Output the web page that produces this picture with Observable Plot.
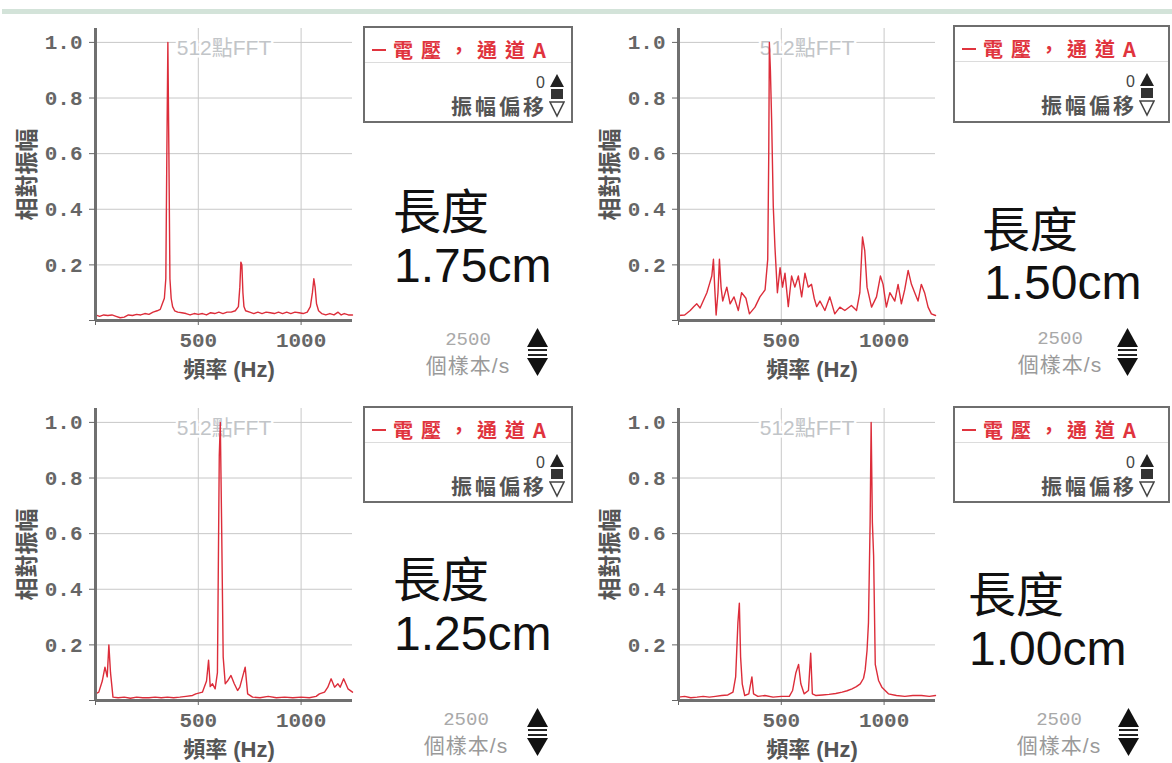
<!DOCTYPE html>
<html>
<head>
<meta charset="utf-8">
<script src="https://cdn.jsdelivr.net/npm/d3@7"></script>
<script src="https://cdn.jsdelivr.net/npm/@observablehq/plot@0.6"></script>
<style>
  html, body { margin: 0; padding: 0; background: #fff; }
  #root { position: relative; width: 1172px; height: 763px; overflow: hidden; background: #fff; }
  .topbar { position: absolute; left: 2px; top: 9px; width: 1170px; height: 5px; background: #d3e3d9; }
  .panel { position: absolute; }
  .legend { position: absolute; box-sizing: border-box; border: 2px solid #6e6e6e; background: #fff; }
  .t { position: absolute; white-space: nowrap; line-height: 1; }
</style>
</head>
<body>
<div id="root"><div class="topbar"></div></div>
<script>
// ---------- data ----------
const lengths = ["1.75cm", "1.50cm", "1.25cm", "1.00cm"];

const freq175 = [0,20,40,60,80,100,120,140,160,180,200,220,240,260,280,300,315,325,335,342,347,352,357,362,368,375,385,400,420,440,460,480,500,520,540,560,580,600,620,640,660,680,695,702,707,712,717,722,730,750,770,790,810,830,850,870,890,910,930,950,970,990,1010,1030,1045,1055,1062,1068,1075,1085,1100,1120,1140,1160,1180,1195,1210,1230,1250];
const amp175  = [0.02,0.015,0.02,0.018,0.02,0.015,0.01,0.012,0.02,0.018,0.022,0.02,0.025,0.022,0.03,0.035,0.04,0.06,0.08,0.15,0.6,1.0,0.6,0.15,0.08,0.05,0.035,0.03,0.028,0.025,0.02,0.025,0.022,0.025,0.02,0.028,0.025,0.03,0.025,0.03,0.03,0.035,0.05,0.12,0.21,0.2,0.1,0.05,0.035,0.03,0.025,0.03,0.025,0.03,0.028,0.025,0.03,0.025,0.03,0.025,0.03,0.028,0.025,0.03,0.05,0.1,0.15,0.12,0.06,0.035,0.025,0.02,0.025,0.02,0.03,0.02,0.025,0.02,0.02];

const freq150 = [0,30,57,75,89,105,120,138,150,162,170,176,183,192,199,207,215,235,251,270,291,307,328,345,372,396,421,434,439,442,447,453,461,469,481,494,506,518,534,550,566,583,599,615,631,647,660,672,688,712,736,760,785,809,841,866,882,895,906,917,939,963,982,995,1011,1028,1052,1068,1084,1100,1117,1133,1149,1165,1181,1197,1214,1230,1250];
const amp150  = [0.018,0.02,0.036,0.05,0.06,0.045,0.07,0.1,0.13,0.16,0.22,0.12,0.02,0.1,0.22,0.12,0.07,0.12,0.06,0.085,0.036,0.1,0.08,0.024,0.048,0.085,0.11,0.22,0.6,1.0,0.9,0.72,0.41,0.265,0.1,0.19,0.12,0.17,0.05,0.16,0.12,0.16,0.085,0.17,0.12,0.13,0.08,0.05,0.07,0.036,0.085,0.024,0.048,0.036,0.054,0.036,0.1,0.3,0.25,0.12,0.048,0.085,0.16,0.13,0.048,0.1,0.07,0.13,0.06,0.11,0.18,0.13,0.1,0.07,0.13,0.1,0.048,0.024,0.018];

const freq125 = [0,16,33,46,57,65,73,85,110,140,170,200,230,260,290,320,350,380,410,440,472,488,520,540,550,558,569,582,593,602,607,613,621,631,642,659,675,691,702,728,740,764,800,840,880,920,960,1000,1040,1073,1089,1114,1130,1146,1163,1179,1190,1207,1228,1250];
const amp125  = [0.024,0.03,0.07,0.12,0.085,0.2,0.1,0.012,0.01,0.012,0.008,0.012,0.01,0.01,0.012,0.01,0.012,0.01,0.012,0.015,0.018,0.024,0.03,0.07,0.145,0.05,0.06,0.042,0.1,0.88,1.0,0.66,0.157,0.06,0.07,0.09,0.06,0.036,0.048,0.12,0.024,0.012,0.01,0.015,0.01,0.012,0.01,0.012,0.01,0.015,0.024,0.03,0.048,0.078,0.048,0.06,0.048,0.078,0.042,0.03];

const freq100 = [0,30,60,90,120,150,180,210,240,265,278,289,296,302,310,322,342,357,365,386,420,460,500,539,555,571,584,595,611,632,643,651,667,700,732,765,796,820,844,865,884,900,908,917,924,932,937,943,949,957,973,989,1021,1060,1101,1140,1182,1220,1250];
const amp100  = [0.012,0.015,0.01,0.012,0.015,0.012,0.015,0.018,0.02,0.03,0.085,0.28,0.35,0.157,0.06,0.018,0.024,0.085,0.024,0.015,0.018,0.012,0.015,0.015,0.036,0.1,0.13,0.06,0.024,0.036,0.17,0.024,0.018,0.02,0.022,0.025,0.03,0.035,0.042,0.05,0.06,0.08,0.11,0.18,0.28,0.64,1.0,0.64,0.52,0.13,0.072,0.048,0.024,0.018,0.015,0.018,0.018,0.015,0.018];

const yTicks = [0, 0.2, 0.4, 0.6, 0.8, 1.0];
const xTicks = [0, 500, 1000];

const fftLabel = "512點FFT";
const yLabel = "相對振幅";
const xLabel = "頻率 (Hz)";
const seriesLabel = "電壓，通道A";
const offsetLabel = "振幅偏移";
const offsetValue = "0";
const rateValue = "2500";
const rateLabel = "個樣本/s";
const lengthWord = "長度";

// ---------- layout ----------
const root = document.getElementById("root");
const CJK = "'Noto Sans CJK TC', 'Noto Sans CJK SC', sans-serif";
const SANS = "'Liberation Sans', Arial, " + CJK;
const MONO = "'Liberation Mono', monospace";

function chart(freq, amp) {
  const rows = freq.map((f, i) => ({f, a: amp[i]}));
  return Plot.plot({
    width: 380, height: 360,
    marginLeft: 95, marginRight: 28, marginTop: 8, marginBottom: 60,
    x: {domain: [0, 1250]},
    y: {domain: [0, 1.05]},
    style: {background: "transparent", overflow: "visible", color: "#666",
            fontFamily: MONO, fontSize: "21px", fontWeight: "bold"},
    marks: [
      Plot.gridY(yTicks.slice(1), {stroke: "#c8c8c8", strokeOpacity: 1}),
      Plot.gridX(xTicks.slice(1), {stroke: "#c8c8c8", strokeOpacity: 1}),
      Plot.text([fftLabel], {text: d => d, frameAnchor: "top", lineAnchor: "middle", dy: 20, fill: "#c2c5c8",
        stroke: "white", strokeWidth: 5, fontSize: 21, fontWeight: "normal", fontFamily: SANS}),
      Plot.line(rows, {x: "f", y: "a", stroke: "#dc2d3a", strokeWidth: 1.4}),
      Plot.ruleX([0], {stroke: "#707070", strokeWidth: 3}),
      Plot.ruleY([0], {stroke: "#707070", strokeWidth: 3}),
      Plot.axisY(yTicks, {tickSize: 6, tickPadding: 7, label: null,
        tickFormat: d => d === 0 ? "" : d.toFixed(1)}),
      Plot.axisX(xTicks, {tickSize: 5, tickPadding: 7, label: null,
        tickFormat: d => d === 0 ? "" : String(d)}),
      Plot.text([yLabel], {text: d => d, frameAnchor: "left", textAnchor: "middle", lineAnchor: "middle",
        dx: -68, rotate: -90, fill: "#555", fontSize: 23, fontWeight: "bold", fontFamily: CJK}),
      Plot.text([xLabel], {text: d => d, frameAnchor: "bottom", lineAnchor: "middle", dy: 49, dx: 5,
        fill: "#555", fontSize: 22, fontWeight: "bold", fontFamily: SANS})
    ]
  });
}

function addText(txt, o) {
  const d = document.createElement("div");
  d.className = "t";
  d.textContent = txt;
  d.style.fontSize = o.size + "px";
  d.style.color = o.color;
  d.style.fontFamily = o.family;
  d.style.fontWeight = o.weight || 400;
  if (o.spacing) d.style.letterSpacing = o.spacing + "px";
  d.style.top = (o.cy - o.size / 2) + "px";
  if (o.left != null) d.style.left = o.left + "px";
  if (o.cx != null) { d.style.left = o.cx + "px"; d.style.transform = "translateX(-50%)"; }
  if (o.right != null) { d.style.left = o.right + "px"; d.style.transform = "translateX(-100%)"; }
  (o.parent || root).appendChild(d);
  return d;
}

function addSvg(parent, left, top, w, h, inner) {
  const ns = "http://www.w3.org/2000/svg";
  const s = document.createElementNS(ns, "svg");
  s.setAttribute("width", w); s.setAttribute("height", h);
  s.style.position = "absolute"; s.style.left = left + "px"; s.style.top = top + "px";
  s.innerHTML = inner;
  parent.appendChild(s);
}

const series = [[freq175, amp175], [freq150, amp150], [freq125, amp125], [freq100, amp100]];
const plotPos = [[0, 20], [583, 20], [0, 400], [583, 400]];
const legendPos = [[363, 26, 210, 97], [953, 25, 217, 98], [363, 406, 210, 97], [953, 406, 217, 97]];
const bigPos = [
  {wl: 393, wcy: 208, nl: 394, ncy: 266},
  {wl: 982, wcy: 226, nl: 984, ncy: 283},
  {wl: 393, wcy: 576, nl: 394, ncy: 634},
  {wl: 968, wcy: 591, nl: 969, ncy: 649}
];
const ratePos = [
  {cx: 468, cy: 340, sl: 527, st: 328},
  {cx: 1060, cy: 339, sl: 1117, st: 328},
  {cx: 466, cy: 720, sl: 527, st: 708},
  {cx: 1059, cy: 720, sl: 1118, st: 708}
];

series.forEach(([f, a], i) => {
  const wrap = document.createElement("div");
  wrap.className = "panel";
  wrap.style.left = plotPos[i][0] + "px";
  wrap.style.top = plotPos[i][1] + "px";
  wrap.appendChild(chart(f, a));
  root.appendChild(wrap);
});

series.forEach((_, i) => {
  // legend box
  const [l, t, w, h] = legendPos[i];
  const box = document.createElement("div");
  box.className = "legend";
  box.style.left = l + "px"; box.style.top = t + "px";
  box.style.width = w + "px"; box.style.height = h + "px";
  root.appendChild(box);
  const dash = document.createElement("div");
  dash.style.cssText = "position:absolute;left:7px;top:21px;width:14px;height:2px;background:#e0343e;";
  box.appendChild(dash);
  addText(seriesLabel, {parent: box, left: 28, cy: 22, size: 20, color: "#e0343e", family: CJK, weight: 700, spacing: 8});
  const sep = document.createElement("div");
  sep.style.cssText = "position:absolute;left:0;right:0;top:34px;height:1px;background:#dcdcdc;";
  box.appendChild(sep);
  addText(offsetValue, {parent: box, right: 180, cy: 55, size: 16, color: "#444", family: SANS});
  addText(offsetLabel, {parent: box, right: 182, cy: 77, size: 21, color: "#555", family: CJK, weight: 700, spacing: 3});
  addSvg(box, 184, 46, 16, 44,
    '<polygon points="8,0 15,13 1,13" fill="#222"/>' +
    '<rect x="2" y="15" width="12" height="10" fill="#333"/>' +
    '<polygon points="1,28 15,28 8,42" fill="#fff" stroke="#444" stroke-width="1.5"/>');

  // big annotation
  const b = bigPos[i];
  addText(lengthWord, {left: b.wl, cy: b.wcy, size: 48, color: "#111", family: CJK});
  addText(lengths[i], {left: b.nl, cy: b.ncy, size: 48, color: "#111", family: SANS});

  // sample-rate control
  const r = ratePos[i];
  addText(rateValue, {cx: r.cx, cy: r.cy, size: 19, color: "#a9a9a9", family: MONO});
  addText(rateLabel, {cx: r.cx, cy: r.cy + 25, size: 21, color: "#9a9a9a", family: SANS, spacing: 1});
  addSvg(root, r.sl, r.st, 21, 48,
    '<polygon points="10.5,0 21,19 0,19" fill="#111"/>' +
    '<rect x="1" y="21" width="19" height="2" fill="#222"/>' +
    '<rect x="1" y="26" width="19" height="2" fill="#222"/>' +
    '<polygon points="0,30 21,30 10.5,48" fill="#111"/>');
});
</script>
</body>
</html>
